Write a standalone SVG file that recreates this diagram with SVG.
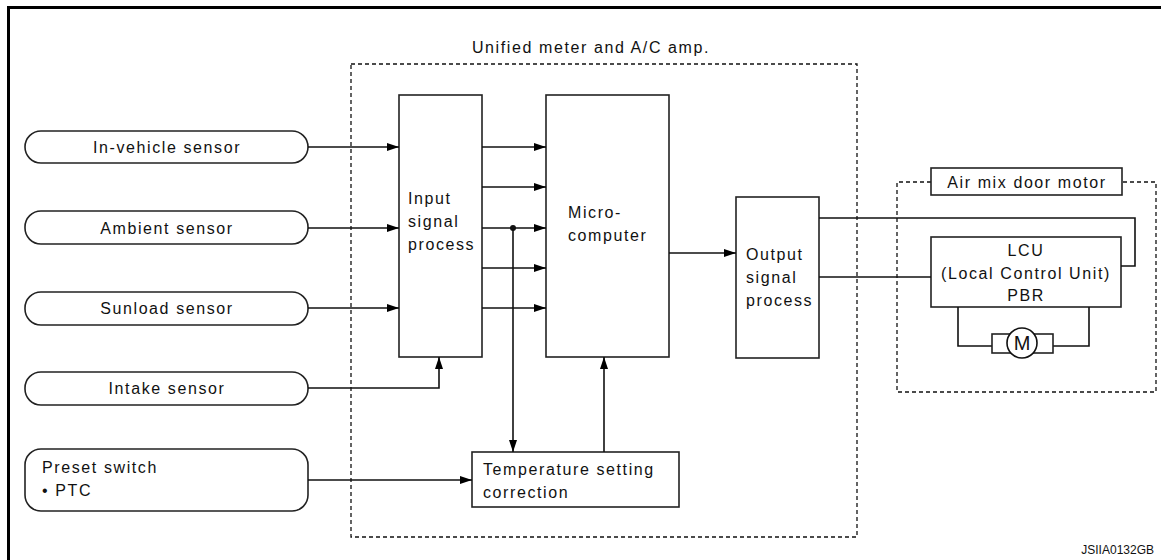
<svg xmlns="http://www.w3.org/2000/svg" width="1161" height="560" viewBox="0 0 1161 560">
<defs>
<marker id="ah" viewBox="0 0 12 8" refX="12" refY="4" markerWidth="12" markerHeight="8" markerUnits="userSpaceOnUse" orient="auto">
<path d="M0,0 L12,4 L0,8 Z" fill="#000"/>
</marker>
</defs>
<style>
.t{font-family:"Liberation Sans",Arial,sans-serif;font-size:16px;letter-spacing:1.6px;fill:#111}
.c{text-anchor:middle}
.box{fill:#fff;stroke:#222;stroke-width:1.6}
.dash{fill:none;stroke:#111;stroke-width:1.3;stroke-dasharray:4 3}
.ln{fill:none;stroke:#111;stroke-width:1.6}
.ar{fill:none;stroke:#111;stroke-width:1.6;marker-end:url(#ah)}
</style>
<rect width="1161" height="560" fill="#fff"/>
<path d="M8.5,560 V7.5 H1161" fill="none" stroke="#000" stroke-width="3"/>

<g id="amp">
<rect class="dash" x="351" y="64" width="506" height="473"/>
<text class="t c" x="591" y="53">Unified meter and A/C amp.</text>
</g>

<g id="airmix">
<path class="dash" d="M931,182 H897 V392 H1156 V182 H1122"/>
<rect class="box" x="931" y="168" width="191" height="27"/>
<text class="t c" x="1027" y="188">Air mix door motor</text>
</g>

<g id="in-vehicle"><rect class="box" x="25" y="131" width="283" height="32" rx="16"/><text class="t c" x="167" y="153">In-vehicle sensor</text></g>
<g id="ambient"><rect class="box" x="25" y="211" width="283" height="33" rx="16"/><text class="t c" x="167" y="234">Ambient sensor</text></g>
<g id="sunload"><rect class="box" x="25" y="292" width="283" height="33" rx="16"/><text class="t c" x="167" y="314">Sunload sensor</text></g>
<g id="intake"><rect class="box" x="25" y="372" width="283" height="33" rx="16"/><text class="t c" x="167" y="394">Intake sensor</text></g>
<g id="preset"><rect class="box" x="25" y="449" width="283" height="62" rx="16"/><text class="t" x="42" y="473">Preset switch</text><text class="t" x="42" y="496">• PTC</text></g>

<g id="input"><rect class="box" x="399" y="95" width="83" height="262"/><text class="t" x="408" y="204">Input</text><text class="t" x="408" y="227">signal</text><text class="t" x="408" y="250">process</text></g>
<g id="micro"><rect class="box" x="546" y="95" width="123" height="262"/><text class="t" x="568" y="218">Micro-</text><text class="t" x="568" y="241">computer</text></g>
<g id="output"><rect class="box" x="736" y="197" width="83" height="161"/><text class="t" x="746" y="260">Output</text><text class="t" x="746" y="283">signal</text><text class="t" x="746" y="306">process</text></g>
<g id="temp"><rect class="box" x="472" y="452" width="207" height="55"/><text class="t" x="483" y="475">Temperature setting</text><text class="t" x="483" y="498">correction</text></g>
<g id="lcu"><rect class="box" x="931" y="237" width="190" height="70"/><text class="t c" x="1026" y="256">LCU</text><text class="t c" x="1026" y="279">(Local Control Unit)</text><text class="t c" x="1026" y="301">PBR</text></g>
<g id="motor">
<path class="ln" d="M958,307 V346 H992 M1053,346 H1089 V307"/>
<rect class="box" x="992" y="334" width="61" height="19"/>
<circle cx="1022" cy="343" r="15" fill="#fff" stroke="#111" stroke-width="1.6"/>
<text x="1022" y="350" text-anchor="middle" font-family="Liberation Sans,Arial,sans-serif" font-size="20" fill="#111">M</text>
</g>

<g id="connectors">
<path class="ar" d="M308,147 H399"/>
<path class="ar" d="M308,228 H399"/>
<path class="ar" d="M308,308 H399"/>
<path class="ar" d="M308,388 H439 V357"/>
<path class="ar" d="M482,147 H546"/>
<path class="ar" d="M482,187 H546"/>
<path class="ar" d="M482,228 H546"/>
<path class="ar" d="M482,268 H546"/>
<path class="ar" d="M482,308 H546"/>
<circle cx="513" cy="228" r="3" fill="#111"/>
<path class="ar" d="M513,228 V452"/>
<path class="ar" d="M604,452 V357"/>
<path class="ar" d="M308,480 H472"/>
<path class="ar" d="M669,253 H736"/>
<path class="ln" d="M819,218 H1135 V266 H1121"/>
<path class="ln" d="M819,277 H931"/>
</g>

<text x="1154" y="554" text-anchor="end" font-family="Liberation Sans,Arial,sans-serif" font-size="12" fill="#111">JSIIA0132GB</text>
</svg>
